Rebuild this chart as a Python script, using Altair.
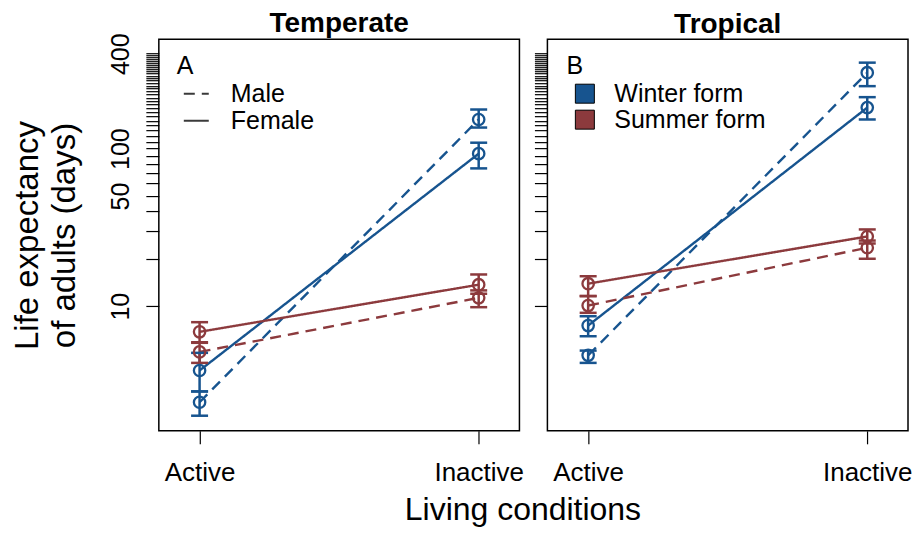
import altair as alt
import pandas as pd

# ---------------- data ----------------
conditions = ["Active", "Inactive"]
cond_x = [1, 2]
climates = ["Temperate", "Tropical"]
forms = ["Winter form", "Summer form"]
sexes = ["Male", "Female"]

# Temperate: mean, lower, upper (Active, Inactive)
temp_winter_male_mean = [2.46, 153]
temp_winter_male_lo = [2.02, 136]
temp_winter_male_hi = [2.88, 177]
temp_winter_female_mean = [3.91, 92.9]
temp_winter_female_lo = [2.88, 74.9]
temp_winter_female_hi = [5.06, 109]
temp_summer_male_mean = [5.13, 11.3]
temp_summer_male_lo = [4.37, 9.86]
temp_summer_male_hi = [5.86, 12.6]
temp_summer_female_mean = [6.88, 13.7]
temp_summer_female_lo = [5.91, 12.0]
temp_summer_female_hi = [7.92, 15.9]

# Tropical
trop_winter_male_mean = [4.88, 303]
trop_winter_male_lo = [4.37, 249]
trop_winter_male_hi = [5.23, 351]
trop_winter_female_mean = [7.54, 182]
trop_winter_female_lo = [6.45, 153]
trop_winter_female_hi = [8.64, 212]
trop_summer_male_mean = [10.1, 23.5]
trop_summer_male_lo = [9.08, 20.0]
trop_summer_male_hi = [11.6, 26.1]
trop_summer_female_mean = [13.9, 27.7]
trop_summer_female_lo = [11.6, 25.0]
trop_summer_female_hi = [15.5, 30.7]

y_tick_values = [10, 20, 30, 40, 50, 60, 70, 80, 90, 100,
                 110, 120, 130, 140, 150, 160, 170, 180, 190, 200,
                 210, 220, 230, 240, 250, 260, 270, 280, 290, 300,
                 310, 320, 330, 340, 350, 360, 370, 380, 390, 400]
y_label_values = [10, 50, 100, 400]

series = [
    ("Temperate", "Winter form", "Male", temp_winter_male_mean, temp_winter_male_lo, temp_winter_male_hi),
    ("Temperate", "Winter form", "Female", temp_winter_female_mean, temp_winter_female_lo, temp_winter_female_hi),
    ("Temperate", "Summer form", "Male", temp_summer_male_mean, temp_summer_male_lo, temp_summer_male_hi),
    ("Temperate", "Summer form", "Female", temp_summer_female_mean, temp_summer_female_lo, temp_summer_female_hi),
    ("Tropical", "Winter form", "Male", trop_winter_male_mean, trop_winter_male_lo, trop_winter_male_hi),
    ("Tropical", "Winter form", "Female", trop_winter_female_mean, trop_winter_female_lo, trop_winter_female_hi),
    ("Tropical", "Summer form", "Male", trop_summer_male_mean, trop_summer_male_lo, trop_summer_male_hi),
    ("Tropical", "Summer form", "Female", trop_summer_female_mean, trop_summer_female_lo, trop_summer_female_hi),
]

rows = []
for clim, form, sex, mean, lo, hi in series:
    for i, cond in enumerate(conditions):
        rows.append({"climate": clim, "form": form, "sex": sex, "condition": cond,
                     "x": cond_x[i], "mean": mean[i], "lo": lo[i], "hi": hi[i]})
df = pd.DataFrame(rows)

BLUE = "#17548f"
RED = "#8c3a3d"
FONT = "Liberation Sans"

W, H = 361, 392

yscale = alt.Scale(type="log", domain=[1.62, 494], nice=False, zero=False)
xscale = alt.Scale(domain=[0.854, 2.146], nice=False, zero=False)

label_test = " || ".join("datum.value == %d" % v for v in y_label_values)


def make_panel(climate, left):
    d = df[df["climate"] == climate]
    base = alt.Chart(d)

    x_axis = alt.Axis(values=cond_x, labelExpr="datum.value == 1 ? 'Active' : 'Inactive'",
                      title=None, tickSize=13, labelFontSize=26, labelPadding=16,
                      grid=False, domain=False, labelFlush=False)
    if left:
        y_axis = alt.Axis(values=y_tick_values,
                          labelExpr="(" + label_test + ") ? format(datum.value, 'd') : ''",
                          labelAngle=270, labelOverlap=False, labelFontSize=25,
                          labelPadding=12, tickSize=13, grid=False, domain=False,
                          title=["Life expectancy", "of adults (days)"],
                          titleFontSize=33, titleFontWeight="normal",
                          titlePadding=27, titleLineHeight=37)
    else:
        y_axis = alt.Axis(values=y_tick_values, labels=False, tickSize=13,
                          grid=False, domain=False, title=None)

    X = alt.X("x:Q", scale=xscale, axis=x_axis)
    color = alt.Color("form:N", scale=alt.Scale(domain=forms, range=[BLUE, RED]), legend=None)
    if left:
        dash_legend = alt.Legend(title="A", orient="none", legendX=18, legendY=15,
                                 titleFontSize=25, titleFontWeight="normal", labelFontSize=25,
                                 symbolType="stroke", symbolStrokeColor="#3a3a3a",
                                 symbolStrokeWidth=2, symbolSize=625, symbolOffset=6,
                                 labelOffset=21, padding=0, rowPadding=0, titlePadding=1)
    else:
        dash_legend = None
    dash = alt.StrokeDash("sex:N", scale=alt.Scale(domain=sexes, range=[[11, 7], [1, 0]]),
                          legend=dash_legend)

    lines = base.mark_line(strokeWidth=2.4).encode(
        x=X, y=alt.Y("mean:Q", scale=yscale, axis=y_axis), color=color, strokeDash=dash)

    bars = base.mark_rule(strokeWidth=2.5).encode(
        x=X, y=alt.Y("lo:Q", scale=yscale, axis=y_axis), y2="hi:Q", color=color)

    cap_enc = dict(x=X, x2=alt.X2("x"), color=color)
    caps_lo = base.mark_rule(strokeWidth=2.5, xOffset=-8.5, x2Offset=8.5).encode(
        y=alt.Y("lo:Q", scale=yscale, axis=y_axis), **cap_enc)
    caps_hi = base.mark_rule(strokeWidth=2.5, xOffset=-8.5, x2Offset=8.5).encode(
        y=alt.Y("hi:Q", scale=yscale, axis=y_axis), **cap_enc)

    points = base.mark_point(shape="circle", filled=False, size=130, strokeWidth=2.3,
                             opacity=1).encode(
        x=X, y=alt.Y("mean:Q", scale=yscale, axis=y_axis), color=color)

    layers = [lines, bars, caps_lo, caps_hi, points]

    if not left:
        # zero-size filled squares: carry the form legend (filled squares) only
        key = base.mark_point(shape="square", filled=True, size=0, opacity=1).encode(
            x=X, y=alt.Y("mean:Q", scale=yscale, axis=y_axis),
            fill=alt.Fill("form:N", sort=forms, scale=alt.Scale(range=[BLUE, RED]),
                          legend=alt.Legend(title="B", orient="none", legendX=19, legendY=15,
                                            titleFontSize=25, titleFontWeight="normal",
                                            labelFontSize=25, symbolType="square",
                                            symbolSize=361, symbolStrokeColor="black",
                                            symbolStrokeWidth=1, symbolOffset=6,
                                            labelOffset=17, padding=0, rowPadding=0,
                                            titlePadding=2)))
        layers.append(key)

    title_kw = dict(fontSize=28, fontWeight="bold", anchor="middle", offset=0,
                    frame="group", font=FONT)
    if left:
        title_kw["dy"] = 5
    return alt.layer(*layers).properties(
        width=W, height=H, title=alt.TitleParams(climate, **title_kw))


left = make_panel("Temperate", True)
right = make_panel("Tropical", False)

chart = alt.hconcat(left, right, spacing=28, bounds="flush").resolve_scale(
    strokeDash="independent", fill="independent", color="independent",
    y="shared", x="independent"
).resolve_legend(strokeDash="independent", fill="independent", color="independent").properties(
    title=alt.TitleParams("Living conditions", orient="bottom", anchor="middle",
                          fontSize=32, fontWeight="normal", frame="bounds", offset=9, dx=61,
                          font=FONT),
    padding={"left": 3, "right": 0, "top": 0, "bottom": 0},
).configure(font=FONT).configure_view(
    stroke="black", strokeWidth=1.5
).configure_axis(
    tickColor="black", labelColor="black", titleColor="black", tickWidth=1.2,
    labelFont=FONT, titleFont=FONT
).configure_legend(
    labelFont=FONT, titleFont=FONT, labelColor="black", titleColor="black"
).configure_title(color="black")

chart.save("out.html", embed_options={"renderer": "svg", "actions": False})
